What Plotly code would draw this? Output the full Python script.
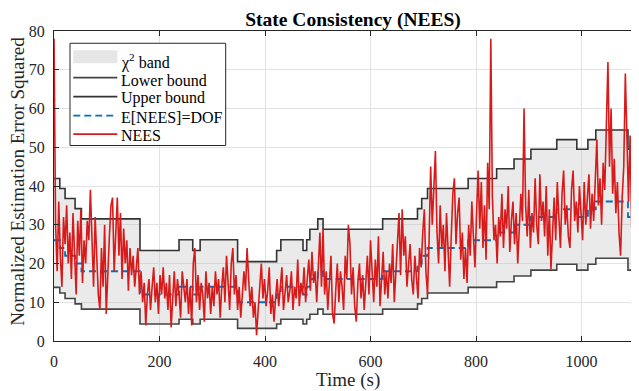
import numpy as np
import plotly.graph_objects as go

# ---------------- data ----------------
# DOF step changes (start time in s, DOF value)
dof_times = [0, 11, 21, 40, 52, 163, 237, 263, 277, 348, 422, 430, 472, 479, 485,
             500, 510, 623, 689, 697, 708, 785, 839, 872, 904, 953, 991, 1012, 1027, 1088]
dof_values = [26, 24, 22, 20, 18, 12, 14, 12, 14, 10, 12, 14, 12, 14, 16,
              18, 16, 18, 20, 22, 24, 26, 28, 30, 32, 34, 32, 34, 36, 32]
t_end = 1107

# 95% two-sided chi-square bounds per DOF (2.5% / 97.5% quantiles)
chi2_lower = {10: 3.247, 12: 4.404, 14: 5.629, 16: 6.908, 18: 8.231, 20: 9.591,
              22: 10.982, 24: 12.401, 26: 13.844, 28: 15.308, 30: 16.791,
              32: 18.291, 34: 19.806, 36: 21.336}
chi2_upper = {10: 20.483, 12: 23.337, 14: 26.119, 16: 28.845, 18: 31.526, 20: 34.170,
              22: 36.781, 24: 39.364, 26: 41.923, 28: 44.461, 30: 46.979,
              32: 49.480, 34: 51.966, 36: 54.437}

# NEES samples every 3 s starting at t = 0
nees_dt = 3
nees = [
    78, 30, 18, 36, 22, 14, 32, 25, 35, 20,
    28, 16, 33, 24, 12, 31, 22, 34, 15, 26,
    20, 31, 26, 39, 27, 14, 32, 19, 12, 8,
    24, 14, 30, 7, 20, 27, 35, 37, 18, 28,
    37, 22, 33, 16, 29, 20, 26, 13, 24, 17,
    22, 14, 19, 24, 12, 18, 10, 15, 4, 12,
    16, 8, 14, 19, 10, 15, 7, 17, 12, 19,
    11, 15, 8, 17, 3.5, 13, 18, 9, 16, 12,
    6, 18, 13, 10, 16, 7, 14, 4, 20, 24,
    10, 17, 8, 15, 12, 5, 18, 11, 15, 7,
    14, 9, 18, 12, 16, 6, 14, 19, 10, 22,
    15, 8, 20, 24, 12, 17, 8, 14, 6, 11,
    18, 13, 24, 16, 9, 14, 6, 10, 1.5, 8,
    14, 20, 11, 16, 9, 13, 19, 7, 12, 5,
    11, 16, 9, 14, 19, 8, 12, 17, 10, 13,
    18, 8, 14, 11, 21, 9, 15, 12, 19, 10,
    16, 21, 13, 23, 15, 18, 10, 20, 28, 14,
    29, 12, 18, 8, 15, 22, 7, 4.5, 13, 20,
    10, 18, 14, 8, 22, 16, 30, 25, 12, 19,
    9, 5, 15, 20, 11, 17, 8, 14, 22, 12,
    26, 18, 10, 21, 14, 27, 9, 16, 23, 12,
    18, 11, 20, 15, 25, 10, 19, 28, 33, 17,
    34, 22, 27, 14, 20, 25, 16, 12, 22, 17,
    11, 24, 19, 28, 34, 18, 12, 26, 45, 30,
    40, 49, 28, 20, 35, 24, 30, 18, 33, 22,
    14, 27, 38, 42, 25, 33, 37, 21, 28, 16,
    24, 15, 30, 22, 36, 27, 19, 33, 44, 29,
    41, 24, 35, 21, 46, 34, 78, 37, 26, 30,
    20, 32, 27, 38, 24, 34, 29, 40, 23, 31,
    36, 25, 33, 20, 28, 38, 31, 60, 35, 27,
    39, 24, 33, 28, 42, 30, 25, 43, 31, 36,
    27, 40, 22, 34, 18.5, 30, 37, 26, 41, 32,
    24, 38, 44, 30, 35, 27, 24, 39, 44, 31,
    36, 28, 40, 33, 26, 41, 30, 37, 43, 29,
    38, 31, 44, 52, 35, 42, 30, 46, 39, 55,
    72, 45, 60, 38, 47, 33, 41, 28, 22, 37,
    45, 69, 50, 36, 53, 30, 18.5, 34, 22, 27,
]

x_ticks = [0, 200, 400, 600, 800, 1000]
y_ticks = [0, 10, 20, 30, 40, 50, 60, 70, 80]

legend_labels = ["χ<sup>2</sup> band", "Lower bound", "Upper bound", "E[NEES]=DOF", "NEES"]

# ---------------- styles ----------------
FONT = "Liberation Serif"
AX = "#262626"
GRID = "#E2E2E2"
C_BAND = "rgba(190,190,190,0.32)"
C_BAND_KEY = "#E6E6E6"
C_LO = "#444444"
C_HI = "#333333"
C_DOF = "#0072BD"
C_NEES = "#D91A1A"
DOF_DASH = "7px,4px"

# ---------------- derived ----------------
step_t = dof_times + [t_end]
step_dof = dof_values + [dof_values[-1]]
step_lo = [chi2_lower[d] for d in step_dof]
step_hi = [chi2_upper[d] for d in step_dof]
nees_t = list(np.arange(len(nees)) * nees_dt)

fig = go.Figure()
fig.add_trace(go.Scatter(x=step_t, y=step_lo, mode="lines", line=dict(width=0, shape="hv"),
                         showlegend=False, hoverinfo="skip"))
fig.add_trace(go.Scatter(x=step_t, y=step_hi, mode="lines", line=dict(width=0, shape="hv"),
                         fill="tonexty", fillcolor=C_BAND, name=legend_labels[0]))
fig.add_trace(go.Scatter(x=step_t, y=step_lo, mode="lines",
                         line=dict(color=C_LO, width=1.6, shape="hv"), name=legend_labels[1]))
fig.add_trace(go.Scatter(x=step_t, y=step_hi, mode="lines",
                         line=dict(color=C_HI, width=1.6, shape="hv"), name=legend_labels[2]))
fig.add_trace(go.Scatter(x=step_t, y=step_dof, mode="lines",
                         line=dict(color=C_DOF, width=1.8, shape="hv", dash=DOF_DASH),
                         name=legend_labels[3]))
fig.add_trace(go.Scatter(x=nees_t, y=nees, mode="lines",
                         line=dict(color=C_NEES, width=1.6), name=legend_labels[4]))

axis_common = dict(showline=True, linecolor=AX, linewidth=1, mirror="ticks",
                   ticks="inside", ticklen=5, tickcolor=AX, showgrid=True,
                   gridcolor=GRID, gridwidth=1, zeroline=False, automargin=False,
                   tickfont=dict(family=FONT, size=16, color=AX))

fig.update_xaxes(range=[0, t_end], tickvals=x_ticks, ticklabelstandoff=6, **axis_common)
fig.update_yaxes(range=[0, 80], tickvals=y_ticks, ticklabelstandoff=5, **axis_common)

# axis titles
fig.add_annotation(text="Time (s)", xref="paper", yref="paper", x=0.503, y=-0.127,
                   xanchor="center", yanchor="middle", showarrow=False,
                   font=dict(family=FONT, size=19, color=AX))
fig.add_annotation(text="Normalized Estimation Error Squared", xref="paper", yref="paper",
                   x=-0.0625, y=0.515, xanchor="center", yanchor="middle", textangle=-90,
                   showarrow=False, font=dict(family=FONT, size=19, color=AX))

# ---------------- legend (MATLAB-style box, paper coordinates) ----------------
LX0, LX1, LY0, LY1 = 0.0274, 0.294, 0.6306, 0.9604
KEY_X0, KEY_X1, TXT_X = 0.033, 0.1084, 0.1115
key_y = [0.917, 0.8496, 0.7884, 0.7272, 0.6673]
text_y = [0.903, 0.8416, 0.7836, 0.7224, 0.6635]
shapes = [dict(type="rect", xref="paper", yref="paper", x0=LX0, x1=LX1, y0=LY0, y1=LY1,
               fillcolor="white", line=dict(color=AX, width=1), layer="above")]
shapes.append(dict(type="rect", xref="paper", yref="paper", x0=KEY_X0, x1=KEY_X1,
                   y0=key_y[0] - 0.021, y1=key_y[0] + 0.021,
                   fillcolor=C_BAND_KEY, line=dict(width=0), layer="above"))
key_styles = [dict(color=C_LO, width=1.6), dict(color=C_HI, width=1.6),
              dict(color=C_DOF, width=1.8, dash=DOF_DASH), dict(color=C_NEES, width=1.6)]
for yy, st in zip(key_y[1:], key_styles):
    shapes.append(dict(type="line", xref="paper", yref="paper", x0=KEY_X0, x1=KEY_X1,
                       y0=yy, y1=yy, line=st, layer="above"))
for yy, lab in zip(text_y, legend_labels):
    fig.add_annotation(text=lab, xref="paper", yref="paper", x=TXT_X, y=yy,
                       xanchor="left", yanchor="middle", showarrow=False,
                       font=dict(family=FONT, size=16, color="black"))

fig.update_layout(
    width=639, height=391,
    # the page body adds an 8 px offset; margins compensate so the plot area
    # lands at the same place as in the reference
    margin=dict(l=46, r=9, t=23, b=57.5),
    paper_bgcolor="white", plot_bgcolor="white",
    title=dict(text="<b>State Consistency (NEES)</b>", x=0.540, xanchor="center",
               y=0.9706, yanchor="middle", font=dict(family=FONT, size=19.5, color="black")),
    shapes=shapes,
    showlegend=False,
)

fig.write_html("out.html")
